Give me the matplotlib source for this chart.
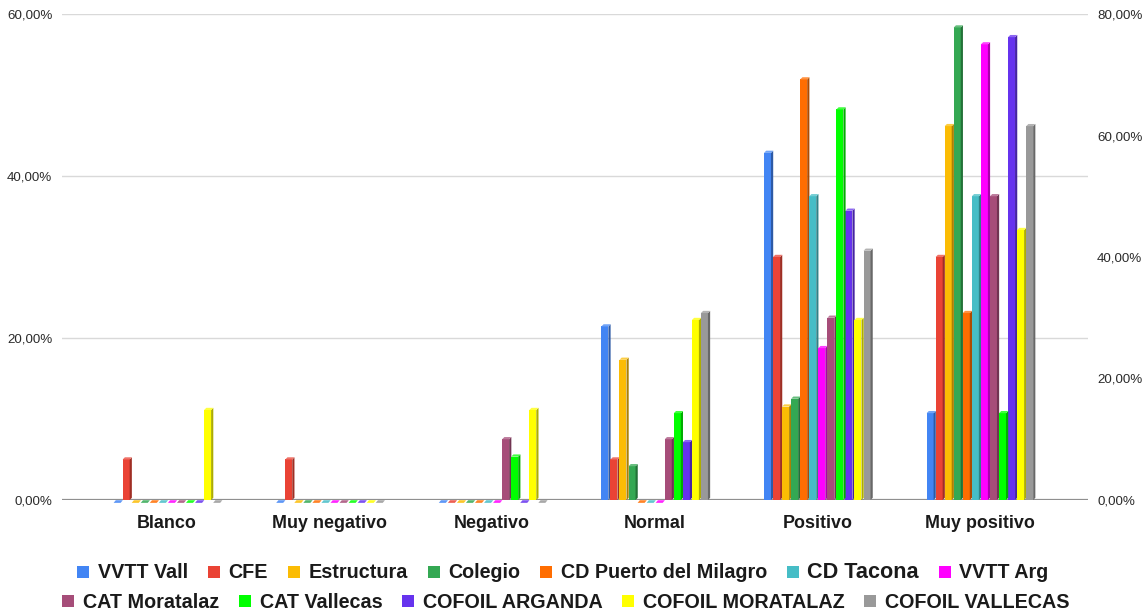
import matplotlib
matplotlib.use('Agg')
import matplotlib.pyplot as plt
from matplotlib.patches import Polygon
from matplotlib.lines import Line2D
import matplotlib.colors as mcolors
import numpy as np

plt.rcParams['font.family'] = ['Liberation Sans', 'DejaVu Sans']

categories = ["Blanco", "Muy negativo", "Negativo", "Normal", "Positivo", "Muy positivo"]

series_names = ["VVTT Vall", "CFE", "Estructura", "Colegio", "CD Puerto del Milagro",
                "CD Tacona", "VVTT Arg", "CAT Moratalaz", "CAT Vallecas",
                "COFOIL ARGANDA", "COFOIL MORATALAZ", "COFOIL VALLECAS"]

colors = ["#4285F4", "#EA4335", "#FBBC04", "#34A853", "#FF6D01", "#46BDC6",
          "#FF00FF", "#A64D79", "#00FF00", "#6633EE", "#FFFF00", "#999999"]

# values in percent; axis: 'R' = right axis (0-80%), 'L' = left axis (0-60%)
vvtt_vall        = [0, 0, 0, 28.57, 57.14, 14.29]
cfe              = [6.67, 6.67, 0, 6.67, 40.0, 40.0]
estructura       = [0, 0, 0, 23.08, 15.38, 61.54]
colegio          = [0, 0, 0, 5.56, 16.67, 77.78]
cd_puerto        = [0, 0, 0, 0, 69.23, 30.77]
cd_tacona        = [0, 0, 0, 0, 50.0, 50.0]
vvtt_arg         = [0, 0, 0, 0, 25.0, 75.0]
cat_moratalaz    = [0, 0, 10.0, 10.0, 30.0, 50.0]
cat_vallecas     = [0, 0, 7.14, 14.29, 64.29, 14.29]
cofoil_arganda   = [0, 0, 0, 7.14, 35.71, 57.14]
cofoil_moratalaz = [11.11, 0, 11.11, 22.22, 22.22, 33.33]
cofoil_vallecas  = [0, 0, 0, 23.08, 30.77, 46.15]

series_values = [vvtt_vall, cfe, estructura, colegio, cd_puerto, cd_tacona, vvtt_arg,
                 cat_moratalaz, cat_vallecas, cofoil_arganda, cofoil_moratalaz, cofoil_vallecas]
series_axis = ['R', 'R', 'R', 'R', 'R', 'R', 'R', 'R', 'R', 'L', 'L', 'L']

left_ticks = [0, 20, 40, 60]
right_ticks = [0, 20, 40, 60, 80]

W, H = 1148, 614
fig = plt.figure(figsize=(W / 100, H / 100), dpi=100)
ax_l = fig.add_axes([62 / W, 1 - 500 / H, (1088 - 62) / W, (500 - 14) / H])
ax_r = ax_l.twinx()

xmin, xmax = -0.645, 5.665
for a in (ax_l, ax_r):
    a.set_xlim(xmin, xmax)
    for s in a.spines.values():
        s.set_visible(False)
ax_l.set_ylim(0, 60)
ax_r.set_ylim(0, 80)

ax_l.set_yticks(left_ticks)
ax_l.set_yticklabels([f"{t:.2f}%".replace('.', ',') for t in left_ticks])
ax_r.set_yticks(right_ticks)
ax_r.set_yticklabels([f"{t:.2f}%".replace('.', ',') for t in right_ticks])
ax_l.tick_params(axis='y', length=0, pad=7, labelsize=9.6, labelcolor='#2b2b2b')
ax_r.tick_params(axis='y', length=0, pad=6.5, labelsize=9.6, labelcolor='#2b2b2b')
ax_l.yaxis.grid(True, color='#d9d9d9', lw=1)
ax_l.set_axisbelow(True)
ax_l.set_xticks(range(len(categories)))
ax_l.set_xticklabels(categories, fontsize=12.9, fontweight='bold', color='#1a1a1a')
ax_l.tick_params(axis='x', length=0, pad=11)
ax_r.tick_params(axis='x', length=0, labelbottom=False)
ax_l.axhline(0, color='#8f8f8f', lw=1.6, zorder=1)

# bar geometry (data units along x)
px_per_x = (1088 - 62) / (xmax - xmin)
step = 9.05 / px_per_x
front_w = 7.0 / px_per_x
depth_px = 2.2
n = len(series_names)
x = np.arange(len(categories))


def shade(c, f):
    r, g, b = mcolors.to_rgb(c)
    return (r * f, g * f, b * f)


def tint(c, f):
    r, g, b = mcolors.to_rgb(c)
    return (r + (1 - r) * f, g + (1 - g) * f, b + (1 - b) * f)


ax_h_px = 500 - 14
for j, (name, vals, c, axn) in enumerate(zip(series_names, series_values, colors, series_axis)):
    a = ax_r if axn == 'R' else ax_l
    ymax = a.get_ylim()[1]
    dx = depth_px / px_per_x
    dy = depth_px * ymax / ax_h_px
    xs = x + (j - (n - 1) / 2) * step
    a.bar(xs, vals, width=front_w, color=c, zorder=3 + j, linewidth=0)
    for xc, v in zip(xs, vals):
        x0 = xc - front_w / 2
        x1 = xc + front_w / 2
        if v > 0:
            side = Polygon([(x1, 0), (x1 + dx, dy), (x1 + dx, v + dy), (x1, v)],
                           closed=True, facecolor=shade(c, 0.68), edgecolor='none', zorder=3 + j)
            top = Polygon([(x0, v), (x1, v), (x1 + dx, v + dy), (x0 + dx, v + dy)],
                          closed=True, facecolor=tint(c, 0.25), edgecolor='none', zorder=3 + j)
            a.add_patch(side)
            a.add_patch(top)
        else:
            slab = Polygon([(x0, -dy * 1.3), (x1, -dy * 1.3), (x1 + dx, -dy * 0.1), (x0 + dx, -dy * 0.1)],
                           closed=True, facecolor=tint(c, 0.15), edgecolor='none', zorder=3 + j,
                           clip_on=False)
            a.add_patch(slab)

# legend in two rows
handles = [Line2D([], [], marker='s', linestyle='none', markersize=8.3, color=c,
                  markeredgewidth=0) for c in colors]
leg_kw = dict(frameon=False, handlelength=0.6, handletextpad=0.45,
              columnspacing=1.0, borderpad=0, borderaxespad=0, loc='center')
prop = {'weight': 'bold', 'size': 14.2}
leg1 = fig.legend(handles[:7], series_names[:7], ncol=7, prop=prop,
                  bbox_to_anchor=(563 / W, 1 - 573 / H), **leg_kw)
for t in leg1.get_texts():
    t.set_color('#1a1a1a')
leg1.get_texts()[5].set_fontsize(15.6)
leg2 = fig.legend(handles[7:], series_names[7:], ncol=5, prop=prop,
                  bbox_to_anchor=(566 / W, 1 - 602 / H), **leg_kw)
for t in leg2.get_texts():
    t.set_color('#1a1a1a')

fig.savefig('out.png', dpi=100)
